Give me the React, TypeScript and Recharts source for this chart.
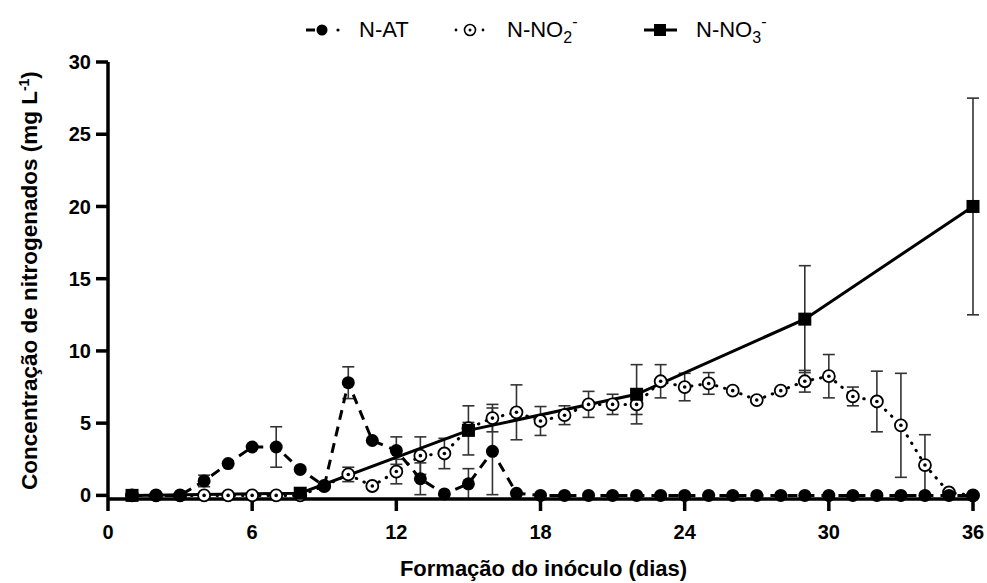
import React from "react";
import { ComposedChart, Line, XAxis, YAxis, ErrorBar } from "recharts";

const FONT = '"Liberation Sans", Arial, Helvetica, sans-serif';

// Days of inoculum formation
const days = [
  1, 2, 3, 4, 5, 6, 7, 8, 9, 10, 11, 12, 13, 14, 15, 16, 17, 18,
  19, 20, 21, 22, 23, 24, 25, 26, 27, 28, 29, 30, 31, 32, 33, 34, 35, 36,
];

// N-AT (mg L-1)
const natValues = [
  0, 0, 0, 1.0, 2.2, 3.35, 3.35, 1.8, 0.65, 7.8, 3.8, 3.1, 1.15, 0.1, 0.8, 3.05, 0.15, 0,
  0, 0, 0, 0, 0, 0, 0, 0, 0, 0, 0, 0, 0, 0, 0, 0, 0, 0,
];
const natErrors = [
  null, null, null, 0.4, null, null, 1.4, null, null, 1.1, null, 0.95, 1.1, null, 1.05, 3.0, null, null,
  null, null, null, null, null, null, null, null, null, null, null, null, null, null, null, null, null, null,
];

// N-NO2- (mg L-1)
const no2Values = [
  0, 0, 0, 0, 0, 0, 0, 0, 0.65, 1.45, 0.65, 1.65, 2.75, 2.9, 4.65, 5.35, 5.75, 5.15,
  5.55, 6.3, 6.3, 6.3, 7.9, 7.5, 7.75, 7.25, 6.6, 7.25, 7.9, 8.25, 6.85, 6.5, 4.85, 2.1, 0.2, 0,
];
const no2Errors = [
  null, null, null, null, null, null, null, null, null, 0.5, null, 0.85, 1.3, 1.05, 0.4, 0.95, 1.9, 1.0,
  0.65, 0.9, 0.7, 0.7, 1.15, 0.95, 0.75, null, null, null, 0.75, 1.5, 0.65, 2.1, 3.6, 2.1, null, null,
];

// N-NO3- (mg L-1), measured weekly
const no3Days = [1, 8, 15, 22, 29, 36];
const no3Values = [0, 0.15, 4.5, 7.0, 12.2, 20.0];
const no3Errors = [null, null, 1.7, 2.05, 3.7, 7.5];

const xTicks = [0, 6, 12, 18, 24, 30, 36];
const yTicks = [0, 5, 10, 15, 20, 25, 30];

const rows = days.map((d, i) => {
  const k = no3Days.indexOf(d);
  return {
    day: d,
    nat: natValues[i],
    natErr: natErrors[i],
    no2: no2Values[i],
    no2Err: no2Errors[i],
    no3: k >= 0 ? no3Values[k] : null,
    no3Err: k >= 0 ? no3Errors[k] : null,
  };
});

const NatDot = (p: any) => {
  if (p.cx == null || p.cy == null || p.value == null) return <g key={`na-${p.index}`} />;
  return <circle key={`na-${p.index}`} cx={p.cx} cy={p.cy} r={6.5} fill="#000" />;
};

const No2Dot = (p: any) => {
  if (p.cx == null || p.cy == null || p.value == null) return <g key={`n2-${p.index}`} />;
  return (
    <g key={`n2-${p.index}`}>
      <circle cx={p.cx} cy={p.cy} r={6} fill="#fff" stroke="#000" strokeWidth={1.8} />
      <circle cx={p.cx} cy={p.cy} r={1.8} fill="#000" />
    </g>
  );
};

const No3Dot = (p: any) => {
  if (p.cx == null || p.cy == null || p.value == null) return <g key={`n3-${p.index}`} />;
  return <rect key={`n3-${p.index}`} x={p.cx - 6.5} y={p.cy - 6.5} width={13} height={13} fill="#000" />;
};

const YLabel = (props: any) => {
  const vb = props.viewBox || { x: 0, y: 62, width: 108, height: 437 };
  const cx = vb.x + 37;
  const cy = vb.y + vb.height / 2;
  return (
    <text
      x={cx}
      y={cy}
      transform={`rotate(-90, ${cx}, ${cy})`}
      textAnchor="middle"
      fontFamily={FONT}
      fontWeight={700}
      fontSize={22.5}
      fill="#000"
    >
      Concentração de nitrogenados (mg L
      <tspan dy={-8} fontSize={14}>-1</tspan>
      <tspan dy={8}>)</tspan>
    </text>
  );
};

const XLabel = (props: any) => {
  const vb = props.viewBox || { x: 108, y: 499, width: 865, height: 84 };
  return (
    <text
      x={vb.x + vb.width / 2 + 3}
      y={vb.y + 77}
      textAnchor="middle"
      fontFamily={FONT}
      fontWeight={700}
      fontSize={22}
      fill="#000"
    >
      Formação do inóculo (dias)
    </text>
  );
};

const Legend = () => (
  <svg
    width={987}
    height={60}
    style={{ position: "absolute", left: 0, top: 0, pointerEvents: "none" }}
  >
    {/* N-AT */}
    <line x1={306} y1={30} x2={315} y2={30} stroke="#000" strokeWidth={3} />
    <circle cx={322} cy={30} r={5.5} fill="#000" />
    <circle cx={338} cy={30} r={1.6} fill="#000" />
    <text x={359} y={37} fontFamily={FONT} fontSize={22} fill="#000">N-AT</text>
    {/* N-NO2- */}
    <circle cx={456} cy={30} r={1.4} fill="#000" />
    <circle cx={470} cy={30} r={5.5} fill="#fff" stroke="#000" strokeWidth={1.6} />
    <circle cx={470} cy={30} r={1.5} fill="#000" />
    <circle cx={483} cy={30} r={1.4} fill="#000" />
    <text x={507} y={37} fontFamily={FONT} fontSize={22} fill="#000">
      N-NO<tspan dy={6} fontSize={16}>2</tspan>
      <tspan dy={-16} fontSize={16}>-</tspan>
    </text>
    {/* N-NO3- */}
    <line x1={644} y1={30} x2={677} y2={30} stroke="#000" strokeWidth={3} />
    <rect x={654} y={24} width={12} height={12} fill="#000" />
    <text x={696} y={37} fontFamily={FONT} fontSize={22} fill="#000">
      N-NO<tspan dy={6} fontSize={16}>3</tspan>
      <tspan dy={-16} fontSize={16}>-</tspan>
    </text>
  </svg>
);

export default function App() {
  return (
    <div
      style={{
        position: "absolute",
        left: 0,
        top: 0,
        width: 987,
        height: 583,
        background: "#fff",
        fontFamily: FONT,
      }}
    >
      <ComposedChart
        width={987}
        height={583}
        data={rows}
        margin={{ top: 62, right: 14, bottom: 0, left: 0 }}
      >
        <XAxis
          type="number"
          dataKey="day"
          domain={[0, 36]}
          ticks={xTicks}
          interval={0}
          height={84}
          tickSize={12}
          tickMargin={14}
          axisLine={{ stroke: "#000", strokeWidth: 3.5 }}
          tickLine={{ stroke: "#000", strokeWidth: 3.5 }}
          tick={{ fontSize: 20, fontWeight: 700, fill: "#000", fontFamily: FONT }}
          label={{ content: (p: any) => <XLabel {...p} /> }}
        />
        <YAxis
          type="number"
          domain={[0, 30]}
          ticks={yTicks}
          interval={0}
          width={108}
          tickSize={12}
          tickMargin={5}
          axisLine={{ stroke: "#000", strokeWidth: 3.5 }}
          tickLine={{ stroke: "#000", strokeWidth: 3.5 }}
          tick={{ fontSize: 20, fontWeight: 700, fill: "#000", fontFamily: FONT }}
          label={{ content: (p: any) => <YLabel {...p} /> }}
        />
        <Line
          dataKey="no2"
          type="linear"
          stroke="#000"
          strokeWidth={3}
          strokeDasharray="0.5 8"
          strokeLinecap="round"
          dot={No2Dot}
          activeDot={false}
          isAnimationActive={false}
        >
          <ErrorBar dataKey="no2Err" direction="y" width={6} stroke="#333" strokeWidth={1.6} />
        </Line>
        <Line
          dataKey="nat"
          type="linear"
          stroke="#000"
          strokeWidth={3}
          strokeDasharray="10 7"
          dot={NatDot}
          activeDot={false}
          isAnimationActive={false}
        >
          <ErrorBar dataKey="natErr" direction="y" width={6} stroke="#333" strokeWidth={1.6} />
        </Line>
        <Line
          dataKey="no3"
          type="linear"
          connectNulls
          stroke="#000"
          strokeWidth={3}
          dot={No3Dot}
          activeDot={false}
          isAnimationActive={false}
        >
          <ErrorBar dataKey="no3Err" direction="y" width={6} stroke="#333" strokeWidth={1.6} />
        </Line>
      </ComposedChart>
      <Legend />
    </div>
  );
}
